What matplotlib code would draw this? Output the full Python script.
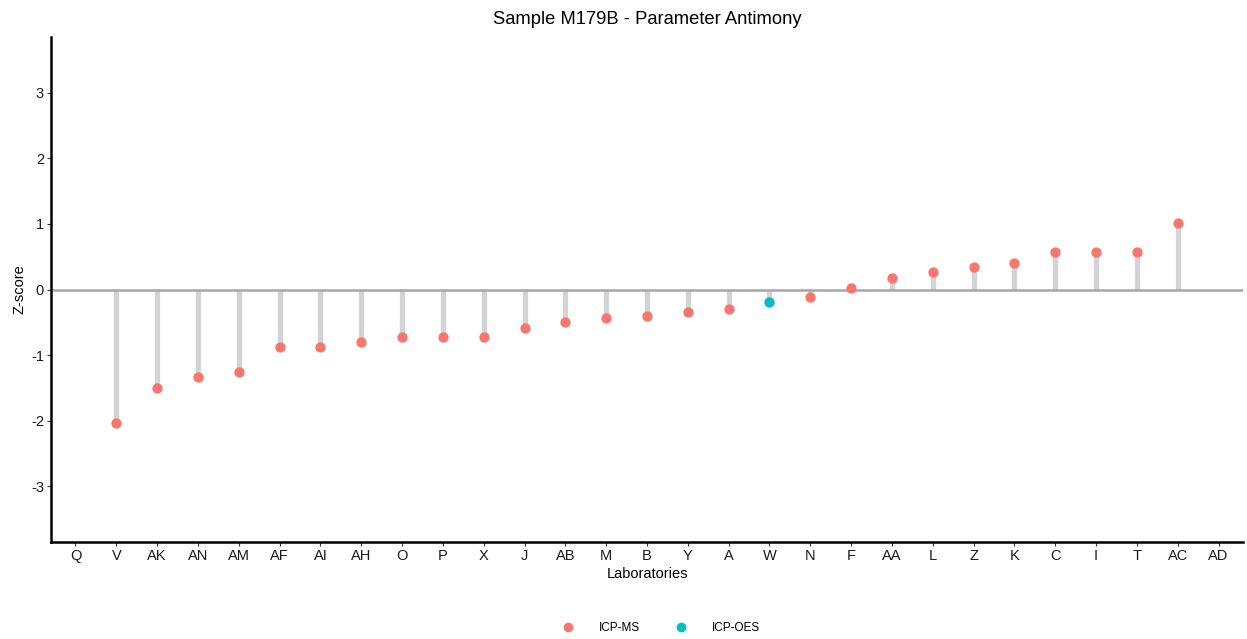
import matplotlib
matplotlib.use("Agg")
import matplotlib.pyplot as plt
import numpy as np
from matplotlib.lines import Line2D

plt.rcParams['font.family'] = ['Liberation Sans', 'DejaVu Sans']
plt.rcParams['axes.unicode_minus'] = False

labs = ["Q", "V", "AK", "AN", "AM", "AF", "AI", "AH", "O", "P", "X", "J", "AB", "M", "B",
        "Y", "A", "W", "N", "F", "AA", "L", "Z", "K", "C", "I", "T", "AC", "AD"]
zscores = [np.nan, -2.03, -1.50, -1.34, -1.26, -0.88, -0.88, -0.80, -0.73, -0.73, -0.73,
           -0.59, -0.50, -0.43, -0.40, -0.35, -0.30, -0.19, -0.12, 0.03, 0.18, 0.26,
           0.34, 0.41, 0.57, 0.57, 0.57, 1.02, np.nan]
methods = ["ICP-MS"] * 17 + ["ICP-OES"] + ["ICP-MS"] * 11
colors = {"ICP-MS": "#F8766D", "ICP-OES": "#00BFC4"}

fig = plt.figure(figsize=(12.47, 6.39), dpi=100)
ax = fig.add_axes([51/1247, (639-542)/639, (1243-51)/1247, (542-37)/639])

x = np.arange(len(labs))
z = np.array(zscores, dtype=float)
for xi, zi in zip(x, z):
    if not np.isnan(zi):
        ax.plot([xi, xi], [0, zi], color="#D3D3D3", lw=3.8, solid_capstyle="butt", zorder=1)
ax.axhline(0, color="#A6A6A6", lw=1.8, zorder=2)
for m in colors:
    idx = [i for i, mm in enumerate(methods) if mm == m and not np.isnan(z[i])]
    ax.scatter(x[idx], z[idx], s=55, color=colors[m], zorder=3, linewidths=0)

ax.set_xlim(-0.6, len(labs) - 0.4)
ax.set_ylim(-3.85, 3.85)
ax.set_xticks(x)
ax.set_xticklabels(labs)
ax.set_yticks([-3, -2, -1, 0, 1, 2, 3])
ax.tick_params(axis="both", colors="#333333", labelcolor="#1a1a1a", labelsize=10.5,
               length=3, width=0.8, pad=2)
for s in ["top", "right"]:
    ax.spines[s].set_visible(False)
for s in ["left", "bottom"]:
    ax.spines[s].set_linewidth(1.8)
    ax.spines[s].set_color("black")
ax.set_xlabel("Laboratories", fontsize=10.5, labelpad=3)
ax.set_ylabel("Z-score", fontsize=10.5, labelpad=3)
ax.set_title("Sample M179B - Parameter Antimony", fontsize=13.2, pad=9)

handles = [Line2D([], [], marker="o", linestyle="", color=colors[m], markersize=7, markeredgewidth=0)
           for m in colors]
fig.legend(handles, list(colors), loc="center", bbox_to_anchor=(658/1247, 1 - 628/639), ncol=2,
           frameon=False, fontsize=8.5, handletextpad=1.6, columnspacing=2.5)

fig.savefig("out.png", dpi=100)
